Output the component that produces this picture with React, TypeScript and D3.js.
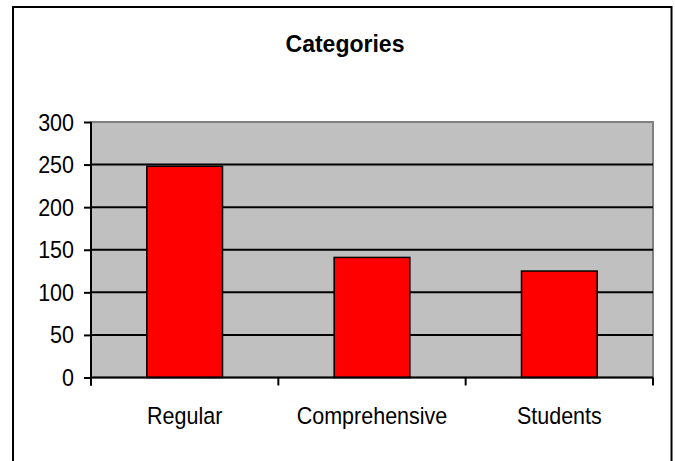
import { useEffect, useRef } from "react";
import * as d3 from "d3";

const categories = ["Regular", "Comprehensive", "Students"];
const values = [248, 141, 125];
const yTicks = [0, 50, 100, 150, 200, 250, 300];
const chartTitle = "Categories";

export default function App() {
  const ref = useRef<SVGSVGElement>(null);

  useEffect(() => {
    if (!ref.current) return;
    const svg = d3.select(ref.current);
    svg.selectAll("*").remove();

    const W = 675;
    const H = 461;
    const left = 91;
    const right = 653;
    const top = 122;
    const bottom = 377.5;
    const font = "Arial, 'Liberation Sans', sans-serif";

    // outer frame (bottom edge is cut off in the picture)
    svg
      .append("rect")
      .attr("x", 13)
      .attr("y", 7)
      .attr("width", 658.5)
      .attr("height", 470)
      .attr("fill", "#fff")
      .attr("stroke", "#000")
      .attr("stroke-width", 2);

    svg
      .append("text")
      .attr("x", 345)
      .attr("y", 52)
      .attr("text-anchor", "middle")
      .style("font-family", font)
      .style("font-weight", "bold")
      .style("font-size", "23px")
      .text(chartTitle);

    const x = d3.scaleBand().domain(categories).range([left, right]).padding(0);
    const y = d3.scaleLinear().domain([0, 300]).range([bottom, top]);

    // plot area
    svg
      .append("rect")
      .attr("x", left)
      .attr("y", top)
      .attr("width", right - left)
      .attr("height", bottom - top)
      .attr("fill", "#c0c0c0")
      .attr("stroke", "#808080")
      .attr("stroke-width", 2);

    // gridlines
    svg
      .append("g")
      .selectAll("line")
      .data(yTicks.filter((t) => t > 0 && t < 300))
      .enter()
      .append("line")
      .attr("x1", left)
      .attr("x2", right)
      .attr("y1", (d) => y(d))
      .attr("y2", (d) => y(d))
      .attr("stroke", "#000")
      .attr("stroke-width", 2);

    // bars
    const barW = x.bandwidth() * 0.404;
    svg
      .append("g")
      .selectAll("rect")
      .data(values)
      .enter()
      .append("rect")
      .attr("x", (d, i) => (x(categories[i]) || 0) + (x.bandwidth() - barW) / 2)
      .attr("y", (d) => y(d))
      .attr("width", barW)
      .attr("height", (d) => bottom - y(d))
      .attr("fill", "#ff0000")
      .attr("stroke", "#000")
      .attr("stroke-width", 1.5);

    // Y axis
    const yAxis = svg
      .append("g")
      .attr("transform", `translate(${left},0)`)
      .call(d3.axisLeft(y).tickValues(yTicks).tickSize(7).tickPadding(10).tickFormat(d3.format("d")));
    yAxis.select(".domain").attr("d", `M0,${top}V${bottom + 8}`).attr("stroke", "#000").attr("stroke-width", 2);
    yAxis.selectAll(".tick line").attr("stroke", "#000").attr("stroke-width", 2);
    yAxis
      .selectAll(".tick text")
      .attr("fill", "#000")
      .attr("dy", null)
      .attr("x", null)
      .attr("transform", "translate(-17,8) scale(1,1.1)")
      .style("font-family", font)
      .style("font-size", "21.5px");

    // X axis
    const xAxis = svg.append("g").attr("transform", `translate(0,${bottom})`);
    xAxis
      .append("line")
      .attr("x1", left)
      .attr("x2", right)
      .attr("stroke", "#000")
      .attr("stroke-width", 2);
    const bounds = [...categories.map((c) => x(c) || 0), right];
    xAxis
      .selectAll(".xtick")
      .data(bounds)
      .enter()
      .append("line")
      .attr("class", "xtick")
      .attr("x1", (d) => d)
      .attr("x2", (d) => d)
      .attr("y1", 0)
      .attr("y2", 8)
      .attr("stroke", "#000")
      .attr("stroke-width", 2);
    xAxis
      .selectAll(".xlabel")
      .data(categories)
      .enter()
      .append("text")
      .attr("class", "xlabel")
      .attr("text-anchor", "middle")
      .attr("transform", (d) => `translate(${(x(d) || 0) + x.bandwidth() / 2},${424 - bottom}) scale(1,1.1)`)
      .style("font-family", font)
      .style("font-size", "21.5px")
      .text((d) => d);

    svg.attr("width", W).attr("height", H);
  }, []);

  return (
    <div style={{ position: "fixed", left: 0, top: 0, background: "#fff" }}>
      <svg ref={ref} width={675} height={461} style={{ display: "block" }} />
    </div>
  );
}
